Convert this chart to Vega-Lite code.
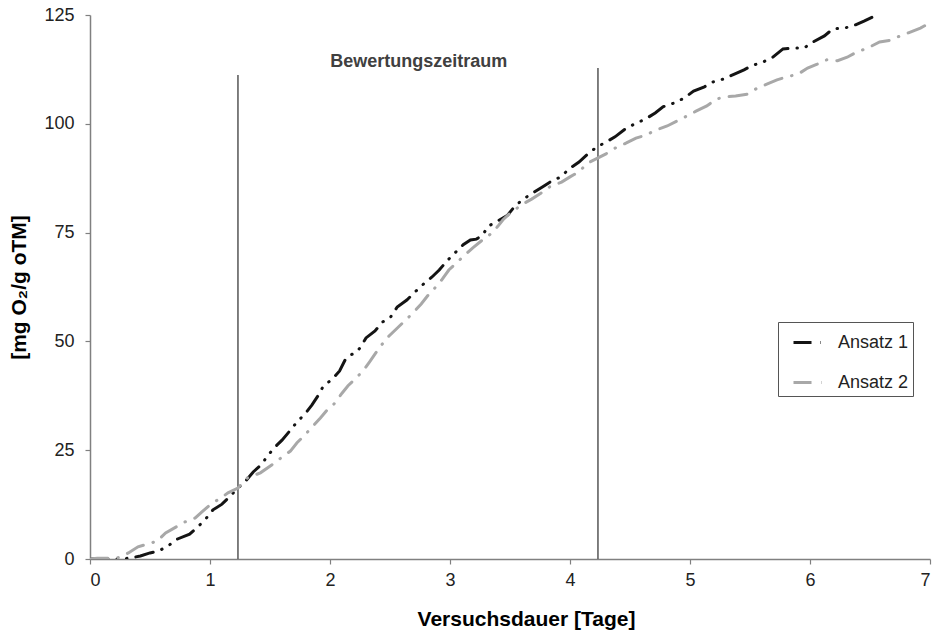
{
  "$schema": "https://vega.github.io/schema/vega-lite/v6.json",
  "autosize": {"type": "none"},
  "width": 840,
  "height": 544,
  "padding": {"left": 90, "top": 15, "right": 12, "bottom": 73},
  "background": "white",
  "config": {
    "view": {"stroke": null},
    "font": "Liberation Sans",
    "axis": {
      "grid": false,
      "domainColor": "#808080",
      "domainWidth": 1.5,
      "tickColor": "#808080",
      "tickWidth": 1.2,
      "tickSize": 5,
      "labelFont": "Liberation Sans",
      "labelFontSize": 18,
      "labelColor": "#222222",
      "titleFont": "Liberation Sans",
      "titleFontSize": 21,
      "titleFontWeight": "bold",
      "titleColor": "#000000"
    }
  },
  "datasets": {
    "curves": [
      {"tag": "Ansatz 1", "t": 0, "v": 0},
      {"tag": "Ansatz 1", "t": 0.25, "v": 0},
      {"tag": "Ansatz 1", "t": 0.33, "v": 0.2},
      {"tag": "Ansatz 1", "t": 0.42, "v": 0.7},
      {"tag": "Ansatz 1", "t": 0.5, "v": 1.4},
      {"tag": "Ansatz 1", "t": 0.57, "v": 1.8},
      {"tag": "Ansatz 1", "t": 0.65, "v": 3.0},
      {"tag": "Ansatz 1", "t": 0.73, "v": 4.6},
      {"tag": "Ansatz 1", "t": 0.83, "v": 5.7},
      {"tag": "Ansatz 1", "t": 0.9, "v": 7.4},
      {"tag": "Ansatz 1", "t": 0.97, "v": 9.4},
      {"tag": "Ansatz 1", "t": 1.025, "v": 11.3},
      {"tag": "Ansatz 1", "t": 1.1, "v": 12.6},
      {"tag": "Ansatz 1", "t": 1.17, "v": 14.5},
      {"tag": "Ansatz 1", "t": 1.233, "v": 16.3},
      {"tag": "Ansatz 1", "t": 1.29, "v": 17.7},
      {"tag": "Ansatz 1", "t": 1.36, "v": 20.0},
      {"tag": "Ansatz 1", "t": 1.425, "v": 21.6},
      {"tag": "Ansatz 1", "t": 1.48, "v": 23.7},
      {"tag": "Ansatz 1", "t": 1.54, "v": 25.7},
      {"tag": "Ansatz 1", "t": 1.6, "v": 27.3},
      {"tag": "Ansatz 1", "t": 1.67, "v": 29.6},
      {"tag": "Ansatz 1", "t": 1.725, "v": 31.5},
      {"tag": "Ansatz 1", "t": 1.79, "v": 33.3},
      {"tag": "Ansatz 1", "t": 1.85, "v": 35.4},
      {"tag": "Ansatz 1", "t": 1.9, "v": 37.5},
      {"tag": "Ansatz 1", "t": 1.94, "v": 39.5},
      {"tag": "Ansatz 1", "t": 2.02, "v": 41.4},
      {"tag": "Ansatz 1", "t": 2.08, "v": 43.2},
      {"tag": "Ansatz 1", "t": 2.125, "v": 45.7},
      {"tag": "Ansatz 1", "t": 2.17, "v": 46.9},
      {"tag": "Ansatz 1", "t": 2.21, "v": 47.3},
      {"tag": "Ansatz 1", "t": 2.25, "v": 48.5},
      {"tag": "Ansatz 1", "t": 2.3, "v": 50.8},
      {"tag": "Ansatz 1", "t": 2.375, "v": 52.4},
      {"tag": "Ansatz 1", "t": 2.44, "v": 54.5},
      {"tag": "Ansatz 1", "t": 2.5, "v": 55.4},
      {"tag": "Ansatz 1", "t": 2.56, "v": 57.9},
      {"tag": "Ansatz 1", "t": 2.64, "v": 59.5},
      {"tag": "Ansatz 1", "t": 2.71, "v": 61.4},
      {"tag": "Ansatz 1", "t": 2.78, "v": 63.2},
      {"tag": "Ansatz 1", "t": 2.85, "v": 64.8},
      {"tag": "Ansatz 1", "t": 2.91, "v": 66.4},
      {"tag": "Ansatz 1", "t": 2.975, "v": 68.5},
      {"tag": "Ansatz 1", "t": 3.04, "v": 70.3},
      {"tag": "Ansatz 1", "t": 3.11, "v": 72.2},
      {"tag": "Ansatz 1", "t": 3.17, "v": 73.3},
      {"tag": "Ansatz 1", "t": 3.22, "v": 73.5},
      {"tag": "Ansatz 1", "t": 3.27, "v": 74.4},
      {"tag": "Ansatz 1", "t": 3.32, "v": 76.5},
      {"tag": "Ansatz 1", "t": 3.4, "v": 77.7},
      {"tag": "Ansatz 1", "t": 3.48, "v": 79.0},
      {"tag": "Ansatz 1", "t": 3.53, "v": 80.7},
      {"tag": "Ansatz 1", "t": 3.6, "v": 82.5},
      {"tag": "Ansatz 1", "t": 3.69, "v": 84.1},
      {"tag": "Ansatz 1", "t": 3.77, "v": 85.5},
      {"tag": "Ansatz 1", "t": 3.85, "v": 86.9},
      {"tag": "Ansatz 1", "t": 3.925, "v": 87.8},
      {"tag": "Ansatz 1", "t": 3.99, "v": 89.6},
      {"tag": "Ansatz 1", "t": 4.075, "v": 91.2},
      {"tag": "Ansatz 1", "t": 4.15, "v": 93.1},
      {"tag": "Ansatz 1", "t": 4.225, "v": 94.7},
      {"tag": "Ansatz 1", "t": 4.3, "v": 95.8},
      {"tag": "Ansatz 1", "t": 4.375, "v": 97.0},
      {"tag": "Ansatz 1", "t": 4.46, "v": 98.8},
      {"tag": "Ansatz 1", "t": 4.54, "v": 100.0},
      {"tag": "Ansatz 1", "t": 4.63, "v": 101.1},
      {"tag": "Ansatz 1", "t": 4.71, "v": 102.5},
      {"tag": "Ansatz 1", "t": 4.775, "v": 103.9},
      {"tag": "Ansatz 1", "t": 4.87, "v": 104.8},
      {"tag": "Ansatz 1", "t": 4.95, "v": 105.9},
      {"tag": "Ansatz 1", "t": 5.03, "v": 107.5},
      {"tag": "Ansatz 1", "t": 5.12, "v": 108.5},
      {"tag": "Ansatz 1", "t": 5.19, "v": 109.6},
      {"tag": "Ansatz 1", "t": 5.28, "v": 110.3},
      {"tag": "Ansatz 1", "t": 5.37, "v": 111.4},
      {"tag": "Ansatz 1", "t": 5.45, "v": 112.4},
      {"tag": "Ansatz 1", "t": 5.51, "v": 113.3},
      {"tag": "Ansatz 1", "t": 5.61, "v": 114.2},
      {"tag": "Ansatz 1", "t": 5.69, "v": 115.3},
      {"tag": "Ansatz 1", "t": 5.775, "v": 117.2},
      {"tag": "Ansatz 1", "t": 5.875, "v": 117.4},
      {"tag": "Ansatz 1", "t": 5.95, "v": 117.4},
      {"tag": "Ansatz 1", "t": 6.025, "v": 118.8},
      {"tag": "Ansatz 1", "t": 6.12, "v": 120.2},
      {"tag": "Ansatz 1", "t": 6.19, "v": 121.8},
      {"tag": "Ansatz 1", "t": 6.29, "v": 122.0},
      {"tag": "Ansatz 1", "t": 6.375, "v": 122.7},
      {"tag": "Ansatz 1", "t": 6.45, "v": 123.6},
      {"tag": "Ansatz 1", "t": 6.54, "v": 124.8},
      {"tag": "Ansatz 2", "t": 0, "v": 0},
      {"tag": "Ansatz 2", "t": 0.06, "v": 0.2},
      {"tag": "Ansatz 2", "t": 0.225, "v": 0.2},
      {"tag": "Ansatz 2", "t": 0.32, "v": 1.4},
      {"tag": "Ansatz 2", "t": 0.4, "v": 2.8},
      {"tag": "Ansatz 2", "t": 0.475, "v": 3.4},
      {"tag": "Ansatz 2", "t": 0.56, "v": 4.1},
      {"tag": "Ansatz 2", "t": 0.63, "v": 6.0},
      {"tag": "Ansatz 2", "t": 0.72, "v": 7.4},
      {"tag": "Ansatz 2", "t": 0.79, "v": 8.5},
      {"tag": "Ansatz 2", "t": 0.875, "v": 9.4},
      {"tag": "Ansatz 2", "t": 0.94, "v": 11.0},
      {"tag": "Ansatz 2", "t": 1.02, "v": 12.9},
      {"tag": "Ansatz 2", "t": 1.08, "v": 13.8},
      {"tag": "Ansatz 2", "t": 1.15, "v": 15.2},
      {"tag": "Ansatz 2", "t": 1.233, "v": 16.3},
      {"tag": "Ansatz 2", "t": 1.31, "v": 18.6},
      {"tag": "Ansatz 2", "t": 1.42, "v": 19.8},
      {"tag": "Ansatz 2", "t": 1.525, "v": 21.8},
      {"tag": "Ansatz 2", "t": 1.6, "v": 23.4},
      {"tag": "Ansatz 2", "t": 1.67, "v": 24.8},
      {"tag": "Ansatz 2", "t": 1.725, "v": 26.7},
      {"tag": "Ansatz 2", "t": 1.79, "v": 28.5},
      {"tag": "Ansatz 2", "t": 1.86, "v": 30.6},
      {"tag": "Ansatz 2", "t": 1.92, "v": 32.4},
      {"tag": "Ansatz 2", "t": 1.975, "v": 34.2},
      {"tag": "Ansatz 2", "t": 2.04, "v": 35.8},
      {"tag": "Ansatz 2", "t": 2.1, "v": 38.1},
      {"tag": "Ansatz 2", "t": 2.15, "v": 39.8},
      {"tag": "Ansatz 2", "t": 2.21, "v": 41.4},
      {"tag": "Ansatz 2", "t": 2.275, "v": 43.2},
      {"tag": "Ansatz 2", "t": 2.33, "v": 45.3},
      {"tag": "Ansatz 2", "t": 2.38, "v": 47.3},
      {"tag": "Ansatz 2", "t": 2.43, "v": 49.2},
      {"tag": "Ansatz 2", "t": 2.49, "v": 51.2},
      {"tag": "Ansatz 2", "t": 2.57, "v": 53.3},
      {"tag": "Ansatz 2", "t": 2.63, "v": 54.9},
      {"tag": "Ansatz 2", "t": 2.69, "v": 56.5},
      {"tag": "Ansatz 2", "t": 2.76, "v": 58.6},
      {"tag": "Ansatz 2", "t": 2.82, "v": 60.7},
      {"tag": "Ansatz 2", "t": 2.875, "v": 62.3},
      {"tag": "Ansatz 2", "t": 2.93, "v": 64.1},
      {"tag": "Ansatz 2", "t": 2.99, "v": 66.4},
      {"tag": "Ansatz 2", "t": 3.06, "v": 68.2},
      {"tag": "Ansatz 2", "t": 3.125, "v": 69.9},
      {"tag": "Ansatz 2", "t": 3.19, "v": 71.5},
      {"tag": "Ansatz 2", "t": 3.27, "v": 73.3},
      {"tag": "Ansatz 2", "t": 3.35, "v": 74.9},
      {"tag": "Ansatz 2", "t": 3.4, "v": 76.5},
      {"tag": "Ansatz 2", "t": 3.44, "v": 77.9},
      {"tag": "Ansatz 2", "t": 3.51, "v": 79.7},
      {"tag": "Ansatz 2", "t": 3.61, "v": 81.6},
      {"tag": "Ansatz 2", "t": 3.68, "v": 82.7},
      {"tag": "Ansatz 2", "t": 3.75, "v": 83.9},
      {"tag": "Ansatz 2", "t": 3.83, "v": 85.5},
      {"tag": "Ansatz 2", "t": 3.93, "v": 86.6},
      {"tag": "Ansatz 2", "t": 4.0, "v": 87.8},
      {"tag": "Ansatz 2", "t": 4.07, "v": 88.9},
      {"tag": "Ansatz 2", "t": 4.15, "v": 91.0},
      {"tag": "Ansatz 2", "t": 4.23, "v": 92.1},
      {"tag": "Ansatz 2", "t": 4.3, "v": 93.1},
      {"tag": "Ansatz 2", "t": 4.375, "v": 94.4},
      {"tag": "Ansatz 2", "t": 4.47, "v": 95.6},
      {"tag": "Ansatz 2", "t": 4.55, "v": 96.7},
      {"tag": "Ansatz 2", "t": 4.63, "v": 97.4},
      {"tag": "Ansatz 2", "t": 4.72, "v": 98.6},
      {"tag": "Ansatz 2", "t": 4.81, "v": 99.5},
      {"tag": "Ansatz 2", "t": 4.89, "v": 100.6},
      {"tag": "Ansatz 2", "t": 4.975, "v": 101.8},
      {"tag": "Ansatz 2", "t": 5.05, "v": 102.9},
      {"tag": "Ansatz 2", "t": 5.14, "v": 104.1},
      {"tag": "Ansatz 2", "t": 5.22, "v": 105.7},
      {"tag": "Ansatz 2", "t": 5.3, "v": 106.2},
      {"tag": "Ansatz 2", "t": 5.38, "v": 106.4},
      {"tag": "Ansatz 2", "t": 5.475, "v": 106.8},
      {"tag": "Ansatz 2", "t": 5.56, "v": 108.2},
      {"tag": "Ansatz 2", "t": 5.64, "v": 109.1},
      {"tag": "Ansatz 2", "t": 5.725, "v": 110.1},
      {"tag": "Ansatz 2", "t": 5.81, "v": 110.8},
      {"tag": "Ansatz 2", "t": 5.9, "v": 111.4},
      {"tag": "Ansatz 2", "t": 5.98, "v": 112.8},
      {"tag": "Ansatz 2", "t": 6.06, "v": 113.7},
      {"tag": "Ansatz 2", "t": 6.14, "v": 114.7},
      {"tag": "Ansatz 2", "t": 6.23, "v": 114.5},
      {"tag": "Ansatz 2", "t": 6.31, "v": 115.3},
      {"tag": "Ansatz 2", "t": 6.39, "v": 116.5},
      {"tag": "Ansatz 2", "t": 6.48, "v": 117.4},
      {"tag": "Ansatz 2", "t": 6.58, "v": 118.8},
      {"tag": "Ansatz 2", "t": 6.67, "v": 119.2},
      {"tag": "Ansatz 2", "t": 6.725, "v": 119.9},
      {"tag": "Ansatz 2", "t": 6.82, "v": 120.9},
      {"tag": "Ansatz 2", "t": 6.92, "v": 122.0},
      {"tag": "Ansatz 2", "t": 7.0, "v": 123.2}
    ],
    "bounds": [
      {"t": 1.233, "lo": 0, "hi": 111.2},
      {"t": 4.233, "lo": 0, "hi": 112.8}
    ],
    "label": [
      {"t": 2.74, "v": 114.2, "text": "Bewertungszeitraum"}
    ]
  },
  "layer": [
    {
      "data": {"name": "bounds"},
      "mark": {"type": "rule", "color": "#555555", "strokeWidth": 1.5},
      "encoding": {
        "x": {"field": "t", "type": "quantitative"},
        "y": {"field": "lo", "type": "quantitative"},
        "y2": {"field": "hi"}
      }
    },
    {
      "data": {"name": "curves"},
      "mark": {"type": "line", "strokeWidth": 3, "strokeCap": "round", "clip": true},
      "encoding": {
        "x": {
          "field": "t", "type": "quantitative",
          "scale": {"domain": [0, 7], "nice": false},
          "axis": {"values": [0, 1, 2, 3, 4, 5, 6, 7], "format": "d", "title": "Versuchsdauer [Tage]", "labelPadding": 7, "titlePadding": 19, "titleX": 436}
        },
        "y": {
          "field": "v", "type": "quantitative",
          "scale": {"domain": [0, 125], "nice": false},
          "axis": {"values": [0, 25, 50, 75, 100, 125], "title": "[mg O₂/g oTM]", "labelPadding": 11, "titlePadding": 14}
        },
        "color": {
          "field": "tag", "type": "nominal",
          "scale": {"domain": ["Ansatz 1", "Ansatz 2"], "range": ["#141414", "#a8a8a8"]},
          "legend": {
            "title": null,
            "orient": "none",
            "legendX": 688,
            "legendY": 307,
            "strokeColor": "#555555",
            "fillColor": "white",
            "padding": 4,
            "symbolOffset": 10,
            "symbolType": "stroke",
            "symbolStrokeWidth": 3,
            "symbolSize": 900,
            "labelFontSize": 18,
            "labelColor": "#222222",
            "labelOffset": 13,
            "labelExpr": "datum.label + '\u00a0\u00a0\u00a0'",
            "rowPadding": 14
          }
        },
        "strokeDash": {
          "field": "tag", "type": "nominal",
          "scale": {"domain": ["Ansatz 1", "Ansatz 2"], "range": [[18, 9, 0.5, 9, 0.5, 9], [18, 10, 0.5, 10]]},
          "legend": null
        }
      }
    },
    {
      "data": {"name": "label"},
      "mark": {"type": "text", "fontSize": 18, "fontWeight": "bold", "color": "#404040", "font": "Liberation Sans"},
      "encoding": {
        "x": {"field": "t", "type": "quantitative"},
        "y": {"field": "v", "type": "quantitative"},
        "text": {"field": "text"}
      }
    }
  ]
}
